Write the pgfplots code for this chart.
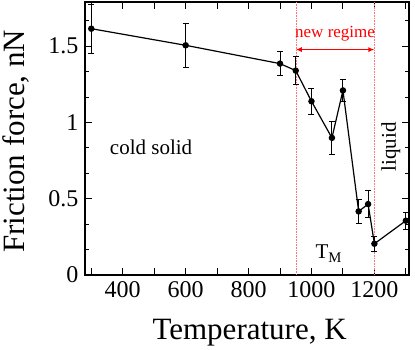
\documentclass[border=0pt]{standalone}
\usepackage{pgfplots}
\pgfplotsset{compat=1.18}
\usepackage{fontspec}
\setmainfont{Liberation Serif}
\usetikzlibrary{arrows.meta}
\begin{document}
\begin{tikzpicture}
\begin{axis}[
  scale only axis,
  width=324pt, height=273pt,
  xmin=280, xmax=1310, ymin=0, ymax=1.79,
  xtick={300,400,...,1300},
  xticklabels={,400,,600,,800,,1000,,1200,},
  ytick={0,0.5,1,1.5},
  yticklabels={0,0.5,1,1.5},
  minor ytick={0.1667,0.3333,0.6667,0.8333,1.1667,1.3333,1.6667},
  tick align=inside,
  major tick length=7pt, minor tick length=4pt,
  every tick/.style={black, line width=0.9pt},
  axis line style={line width=1.3pt},
  /pgf/number format/assume math mode=true,
  ticklabel style={font=\fontsize{24}{28}\selectfont},
  xticklabel style={yshift=-3pt},
  yticklabel style={xshift=-3pt},
  xlabel={Temperature, K},
  ylabel={Friction force, nN},
  label style={font=\fontsize{31}{36}\selectfont},
  xlabel style={at={(axis description cs:0.508,-0.212)}, anchor=center},
  ylabel style={at={(axis description cs:-0.213,0.49)}, anchor=center, rotate=0, inner sep=0pt},
  clip=false,
]
\draw[red!55, line width=0.35pt, dash pattern=on 1pt off 0.6pt] (axis cs:950,0) -- (axis cs:950,1.79);
\draw[red!55, line width=0.35pt, dash pattern=on 1pt off 0.6pt] (axis cs:1200,0) -- (axis cs:1200,1.79);
\draw[red, line width=1.2pt, {Latex[length=6pt,width=5pt]}-{Latex[length=6pt,width=5pt]}] (axis cs:950,1.478) -- (axis cs:1200,1.478);
\node[red, font=\fontsize{17}{20}\selectfont] at (axis cs:1075,1.585) {new regime};
\node[font=\fontsize{21}{25}\selectfont] at (axis cs:490,0.84) {cold solid};
\node[font=\fontsize{21}{25}\selectfont, rotate=90] at (axis cs:1252,0.84) {liquid};
\node[font=\fontsize{21}{25}\selectfont] at (axis cs:1055,0.14) {T\textsubscript{M}};
\addplot[black, line width=1.2pt, mark=*, mark size=2.6pt,
  error bars/.cd, y dir=both, y explicit,
  error bar style={line width=0.9pt},
  error mark options={rotate=90, mark size=3pt, line width=0.9pt}]
  table[x=x, y=y, y error=e] {
x y e
300 1.615 0.16
600 1.506 0.146
900 1.386 0.08
950 1.340 0.09
1000 1.139 0.087
1065 0.899 0.11
1100 1.210 0.075
1150 0.417 0.08
1180 0.465 0.09
1200 0.205 0.05
1300 0.356 0.055
};
\end{axis}
\pgfresetboundingbox
\path (current axis.south west) ++(-85pt,-75pt) coordinate (bl);
\path (current axis.north east) ++(6pt,2pt) coordinate (tr);
\path (bl) rectangle (tr);
\end{tikzpicture}
\end{document}
